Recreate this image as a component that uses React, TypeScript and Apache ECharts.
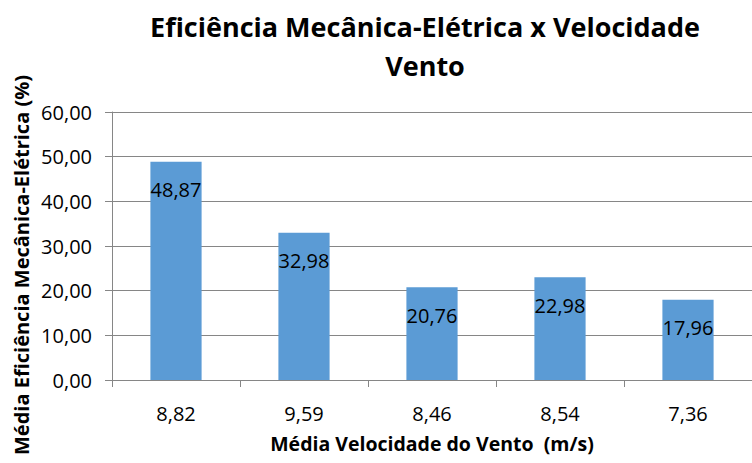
import React, { useEffect, useRef } from "react";
import * as echarts from "echarts";

const categories = ["8,82", "9,59", "8,46", "8,54", "7,36"];
const values = [48.87, 32.98, 20.76, 22.98, 17.96];
const titleLines = ["Eficiência Mecânica-Elétrica x Velocidade", "Vento"];
const yAxisName = "Média Eficiência Mecânica-Elétrica (%)";
const xAxisName = "Média Velocidade do Vento  (m/s)";

const fmt = (v: number) => v.toFixed(2).replace(".", ",");
const FONT = "'Open Sans', 'Liberation Sans', sans-serif";

export default function App() {
  const ref = useRef<HTMLDivElement>(null);
  useEffect(() => {
    if (!ref.current) return;
    const chart = echarts.init(ref.current, undefined, { renderer: "svg" });
    chart.setOption({
      animation: false,
      backgroundColor: "#ffffff",
      title: {
        text: titleLines.join("\n"),
        left: 420,
        textAlign: "center",
        top: 2,
        textStyle: { fontFamily: FONT, fontSize: 27, fontWeight: "bold", color: "#000", lineHeight: 39 },
      },
      graphic: [
        {
          type: "text",
          x: 21,
          y: 265,
          rotation: Math.PI / 2,
          style: {
            text: yAxisName,
            fontFamily: FONT,
            fontSize: 20,
            fontWeight: "bold",
            fill: "#000",
            align: "center",
            verticalAlign: "middle",
          },
        },
      ],
      grid: { left: 112, top: 112, width: 647, height: 268, containLabel: false },
      xAxis: {
        type: "category",
        data: categories,
        name: xAxisName,
        nameLocation: "middle",
        nameGap: 53,
        nameTextStyle: { fontFamily: FONT, fontSize: 19.5, fontWeight: "bold", color: "#000" },
        axisLine: { lineStyle: { color: "#868686" } },
        axisTick: { show: true, length: 7, lineStyle: { color: "#868686" } },
        axisLabel: { fontFamily: FONT, fontSize: 20, color: "#000", margin: 23 },
      },
      yAxis: {
        type: "value",
        min: 0,
        max: 60,
        interval: 10,
        axisLine: { show: true, lineStyle: { color: "#868686" } },
        axisTick: { show: true, length: 7, lineStyle: { color: "#868686" } },
        axisLabel: { fontFamily: FONT, fontSize: 20, color: "#000", margin: 20, formatter: (v: number) => fmt(v) },
        splitLine: { lineStyle: { color: "#868686" } },
      },
      series: [
        {
          type: "bar",
          data: values,
          barWidth: "40%",
          itemStyle: { color: "#5B9BD5" },
          label: {
            show: true,
            position: "insideTop",
            distance: 18,
            fontFamily: FONT,
            fontSize: 20,
            color: "#000",
            formatter: (p: any) => fmt(p.value),
          },
        },
      ],
    });
    return () => chart.dispose();
  }, []);
  return <div ref={ref} style={{ position: "fixed", left: 0, top: 0, width: 752, height: 463 }} />;
}
